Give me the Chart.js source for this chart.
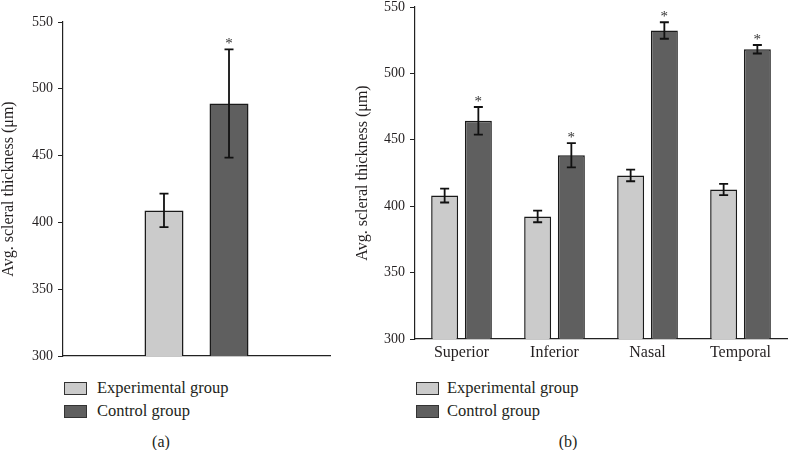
<!DOCTYPE html>
<html>
<head>
<meta charset="utf-8">
<script src="https://cdn.jsdelivr.net/npm/chart.js@4.4.1/dist/chart.umd.min.js"></script>
<style>
  html, body { margin: 0; padding: 0; background: #fff; }
  body { width: 788px; height: 450px; position: relative; overflow: hidden; font-family: "Liberation Serif", "Times New Roman", serif; color: #231f20; }
  .wrap { position: absolute; }
  .leg { position: absolute; font-family: "Liberation Serif", "Times New Roman", serif; font-size: 16.5px; line-height: 16px; white-space: nowrap; color: #231f20; }
  .box { position: absolute; width: 21px; height: 11px; border: 1px solid #333; }
  .cap { position: absolute; font-family: "Liberation Serif", "Times New Roman", serif; font-size: 16px; transform: translateX(-50%); }
</style>
</head>
<body>
<div class="wrap" id="wa" style="left:0;top:0;width:335px;height:368px;"><canvas id="ca"></canvas></div>
<div class="wrap" id="wb" style="left:335px;top:-5px;width:453px;height:380px;"><canvas id="cb"></canvas></div>
<div id="legendA"></div>
<div id="legendB"></div>
<div class="cap" style="left:161px;top:433px;">(a)</div>
<div class="cap" style="left:568px;top:433px;">(b)</div>
<script>
// ---- data ----
const seriesNames = ['Experimental group', 'Control group'];
const catsA = [''];
const expA = [409];
const expErrA = [12.5];
const ctrlA = [489];
const ctrlErrA = [40.5];
const sigA = [true];

const catsB = ['Superior', 'Inferior', 'Nasal', 'Temporal'];
const expB = [408, 392.3, 423.2, 412.6];
const expErrB = [5.2, 4.4, 4.4, 4.2];
const ctrlB = [464.3, 438.4, 532.3, 518.2];
const ctrlErrB = [10.4, 9.1, 6.2, 3.2];
const sigB = [true, true, true, true];

const yMin = 300, yMax = 550, yStep = 50;
const yTitle = 'Avg. scleral thickness (\u03bcm)';

const colors = ['#cbcbcb', '#5f5f5f'];
const textColor = '#231f20';
const FONT = '"Liberation Serif", "Times New Roman", serif';

const errorBarPlugin = {
  id: 'errorBars',
  afterDatasetsDraw(chart) {
    const ctx = chart.ctx;
    const y = chart.scales.y;
    chart.data.datasets.forEach((ds, di) => {
      const meta = chart.getDatasetMeta(di);
      meta.data.forEach((bar, i) => {
        const v = ds.data[i], e = ds.errors[i];
        const x = bar.x;
        const yt = y.getPixelForValue(v + e);
        const yb = y.getPixelForValue(v - e);
        const hw = 4.5;
        ctx.save();
        ctx.strokeStyle = '#111';
        ctx.lineWidth = 1.8;
        ctx.beginPath();
        ctx.moveTo(x, yt); ctx.lineTo(x, yb);
        ctx.moveTo(x - hw, yt); ctx.lineTo(x + hw, yt);
        ctx.moveTo(x - hw, yb); ctx.lineTo(x + hw, yb);
        ctx.stroke();
        if (ds.sig && ds.sig[i]) {
          ctx.fillStyle = '#333';
          ctx.font = '15px ' + FONT;
          ctx.textAlign = 'center';
          ctx.textBaseline = 'middle';
          ctx.fillText('*', x, yt - 5);
        }
        ctx.restore();
      });
    });
  }
};

function makeChart(id, cats, exp, expErr, ctrl, ctrlErr, sig, opt) {
  return new Chart(document.getElementById(id), {
    type: 'bar',
    data: {
      labels: cats,
      datasets: [
        { label: seriesNames[0], data: exp, errors: expErr, sig: null,
          backgroundColor: colors[0], borderColor: '#1a1a1a', borderWidth: 1.5, borderSkipped: false,
          categoryPercentage: opt.catPct, barPercentage: opt.barPct },
        { label: seriesNames[1], data: ctrl, errors: ctrlErr, sig: sig,
          backgroundColor: colors[1], borderColor: '#1a1a1a', borderWidth: 1.5, borderSkipped: false,
          categoryPercentage: opt.catPct, barPercentage: opt.barPct }
      ]
    },
    options: {
      responsive: true,
      maintainAspectRatio: false,
      animation: false,
      devicePixelRatio: 1,
      layout: { padding: opt.padding },
      plugins: { legend: { display: false }, tooltip: { enabled: false } },
      scales: {
        x: {
          grid: { display: false, drawTicks: false },
          border: { display: true, color: '#222', width: 1.2 },
          ticks: { display: opt.xLabels, color: textColor, padding: 4,
                   font: { family: FONT, size: 16 } },
          afterFit: s => { s.height = opt.xHeight; }
        },
        y: {
          min: yMin, max: yMax,
          ticks: { stepSize: yStep, color: textColor, padding: 5,
                   font: { family: FONT, size: 14, lineHeight: 1 } },
          grid: { drawOnChartArea: false, drawTicks: true, tickLength: 5, color: '#222', lineWidth: 1 },
          border: { display: true, color: '#222', width: 1.2 },
          title: { display: true, text: yTitle, color: textColor,
                   font: { family: FONT, size: 16, lineHeight: 1 },
                   padding: { top: opt.titlePad, bottom: 0 } },
          afterFit: s => { s.width = opt.yWidth; }
        }
      }
    },
    plugins: [errorBarPlugin]
  });
}

makeChart('ca', catsA, expA, expErrA, ctrlA, ctrlErrA, sigA, {
  catPct: 0.487, barPct: 0.6, padding: { top: 22, right: 5, bottom: 4, left: 0 },
  xLabels: false, xHeight: 0, yWidth: 63, titlePad: 0.5
});
makeChart('cb', catsB, expB, expErrB, ctrlB, ctrlErrB, sigB, {
  catPct: 0.725, barPct: 0.8, padding: { top: 2, right: 1, bottom: 6, left: 0 },
  xLabels: true, xHeight: 30, yWidth: 80, titlePad: 20
});

function buildLegend(id, left, textLeft) {
  const el = document.getElementById(id);
  seriesNames.forEach((name, i) => {
    const top = 382 + i * 23;
    const b = document.createElement('div');
    b.className = 'box';
    b.style.left = left + 'px'; b.style.top = top + 'px';
    b.style.background = colors[i];
    el.appendChild(b);
    const t = document.createElement('div');
    t.className = 'leg';
    t.style.left = textLeft + 'px'; t.style.top = (top - 2) + 'px';
    t.textContent = name;
    el.appendChild(t);
  });
}
buildLegend('legendA', 64, 97);
buildLegend('legendB', 416, 447);
</script>
</body>
</html>
